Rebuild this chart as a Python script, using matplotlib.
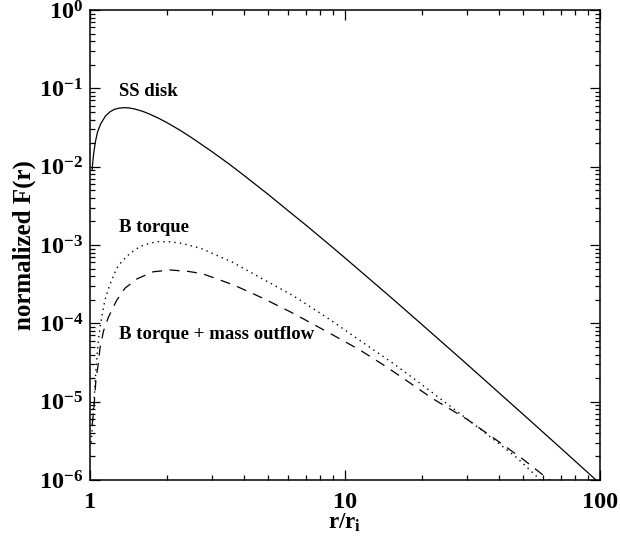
import numpy as np
import matplotlib
matplotlib.use("Agg")
import matplotlib.pyplot as plt
from matplotlib.ticker import LogLocator, FixedLocator, FixedFormatter, NullFormatter

plt.rcParams['font.family'] = ['Liberation Serif', 'DejaVu Serif']
plt.rcParams['font.weight'] = 'bold'
plt.rcParams['mathtext.fontset'] = 'custom'
plt.rcParams['mathtext.rm'] = 'Liberation Serif:bold'
plt.rcParams['mathtext.bf'] = 'Liberation Serif:bold'
plt.rcParams['mathtext.it'] = 'Liberation Serif:bold'

# ---- data ----
ss_r = [1.02, 1.025, 1.035, 1.05, 1.07, 1.1, 1.15, 1.2, 1.25, 1.3, 1.36, 1.42, 1.5, 1.6,
        1.7, 1.85, 2.0, 2.25, 2.5, 3.0, 3.5, 4.0, 5.0, 6.0, 7.0, 8.5, 10.0, 15.0,
        20.0, 30.0, 50.0, 70.0, 100.0]
ss_f = [0.0092, 0.0114, 0.0152, 0.0208, 0.0276, 0.0349, 0.0444, 0.0504, 0.0541, 0.0559,
        0.0566, 0.0563, 0.0544, 0.0512, 0.0474, 0.0418, 0.0366, 0.0293, 0.0235,
        0.01565, 0.0109, 0.00781, 0.00442, 0.00272, 0.001813, 0.00107, 6.84e-4,
        2.2e-4, 9.7e-5, 3.03e-5, 6.87e-6, 2.57e-6, 9.0e-7]

bt_r = [1.012, 1.025, 1.04, 1.055, 1.075, 1.10, 1.145, 1.20, 1.27, 1.34, 1.41,
        1.50, 1.59, 1.72, 1.85, 2.05, 2.29, 2.74, 3.63, 4.64, 6.27, 8.45, 11.4,
        15.4, 19.1, 25.8, 34.8, 47.0, 60.0]
bt_f = [3.0e-6, 6.0e-6, 1.2e-5, 2.5e-5, 5.5e-5, 1.0e-4, 2.0e-4, 3.2e-4, 5.0e-4,
        6.3e-4, 7.4e-4, 8.7e-4, 9.7e-4, 1.06e-3, 1.1e-3, 1.1e-3, 1.05e-3, 9.0e-4,
        6.0e-4, 3.85e-4, 2.25e-4, 1.2e-4, 6.1e-5, 3.1e-5, 1.85e-5, 8.8e-6, 4.2e-6,
        1.95e-6, 9.2e-7]

bm_r = [1.02, 1.035, 1.055, 1.08, 1.094, 1.13, 1.18, 1.27, 1.37, 1.53, 1.77, 2.06,
        2.43, 2.76, 3.65, 4.77, 6.27, 8.45, 11.4, 14.5, 17.9, 22.0, 30.0, 40.0,
        50.0, 66.0]
bm_f = [5.0e-6, 8.0e-6, 1.9e-5, 3.2e-5, 4.8e-5, 8.0e-5, 1.19e-4, 1.95e-4, 2.8e-4,
        3.7e-4, 4.55e-4, 4.8e-4, 4.6e-4, 4.3e-4, 3.1e-4, 2.09e-4, 1.34e-4, 7.9e-5,
        4.6e-5, 2.8e-5, 1.75e-5, 1.1e-5, 6.0e-6, 3.1e-6, 1.83e-6, 9.0e-7]

labels = ["SS disk", "B torque", "B torque + mass outflow"]
x_ticks = [1, 10, 100]
x_ticklabels = ["1", "10", "100"]
y_exps = [0, -1, -2, -3, -4, -5, -6]

fig = plt.figure(figsize=(6.2, 5.44), dpi=100)
ax = fig.add_axes([90/620, 1-480/544, 510/620, 470/544])

ax.plot(ss_r, ss_f, color='black', lw=0.9, ls='-')
ax.plot(bt_r, bt_f, color='black', lw=1.0, ls=(0, (1, 3)))
ax.plot(bm_r, bm_f, color='black', lw=0.9, ls=(0, (8, 6)))

ax.set_xscale('log')
ax.set_yscale('log')
ax.set_xlim(1, 100)
ax.set_ylim(1e-6, 1)

ax.xaxis.set_major_locator(FixedLocator(x_ticks))
ax.xaxis.set_major_formatter(FixedFormatter(x_ticklabels))
ax.xaxis.set_minor_locator(LogLocator(base=10, subs=np.arange(2, 10), numticks=20))
ax.xaxis.set_minor_formatter(NullFormatter())

yt = [10.0**e for e in y_exps]
ax.yaxis.set_major_locator(FixedLocator(yt))
ax.yaxis.set_major_formatter(FixedFormatter([r'$\mathbf{10^{%d}}$' % e for e in y_exps]))
ax.yaxis.set_minor_locator(LogLocator(base=10, subs=np.arange(2, 10), numticks=20))
ax.yaxis.set_minor_formatter(NullFormatter())

ax.tick_params(which='both', direction='in', top=True, right=True, width=0.9)
ax.tick_params(which='major', length=7)
ax.tick_params(which='minor', length=3.5)
ax.tick_params(axis='x', which='major', pad=9, labelsize=17.5)
ax.tick_params(axis='y', which='major', pad=5, labelsize=17.5)
for s in ax.spines.values():
    s.set_linewidth(1.1)

ax.set_xlabel(r'$\mathbf{r/r_i}$', fontsize=16.5, labelpad=-1)
ax.set_ylabel('normalized F(r)', fontsize=18, fontweight='bold', labelpad=2)

ax.text(1.30, 0.079, labels[0], fontsize=13.5, fontweight='bold', va='baseline', ha='left')
ax.text(1.30, 1.47e-3, labels[1], fontsize=13.5, fontweight='bold', va='baseline', ha='left')
ax.text(1.30, 6.3e-5, labels[2], fontsize=13.5, fontweight='bold', va='baseline', ha='left')

fig.savefig('out.png', dpi=100)
